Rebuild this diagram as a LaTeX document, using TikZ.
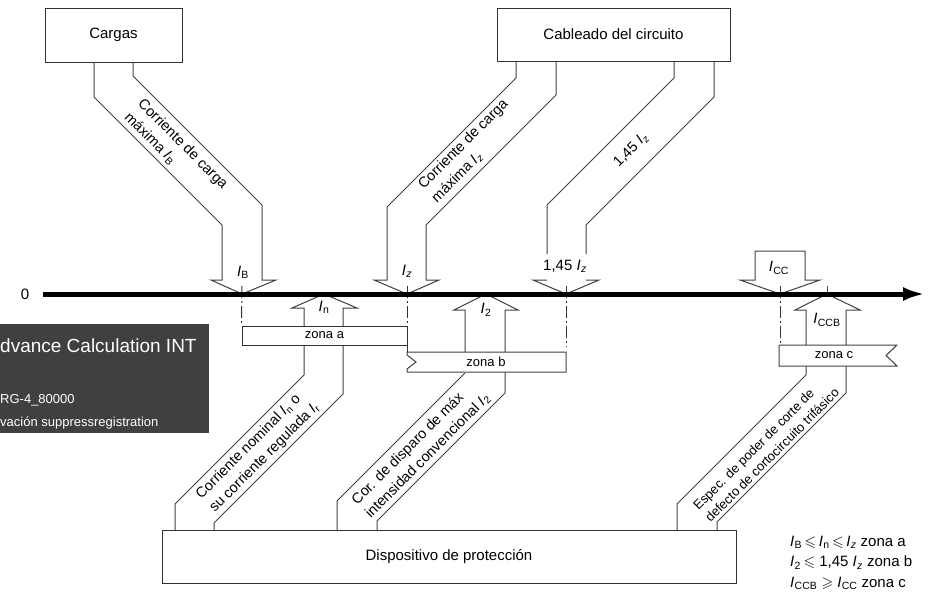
\documentclass[tikz,border=0pt]{standalone}
\usepackage{amssymb}
\usepackage{fontspec}
\setmainfont{Liberation Sans}
\usetikzlibrary{shapes,arrows.meta,positioning}
\tikzstyle{box} = [draw=black!80, line width=1pt, inner sep=0pt]
\tikzstyle{band} = [draw=black!75, line width=1pt]
\tikzstyle{guide} = [draw=black!80, line width=1pt, dash pattern=on 12pt off 3pt on 2pt off 3pt]
\tikzstyle{lbl} = [font=\fontsize{15}{17}\selectfont, inner sep=0pt]
\tikzstyle{zlbl} = [font=\fontsize{13}{15}\selectfont, inner sep=0pt]
\tikzstyle{bandtxt} = [font=\fontsize{14.5}{19}\selectfont, align=left, inner sep=0pt]
\newcommand{\cI}[1]{\textit{I}\kern0.3pt\textsubscript{#1}}

\begin{document}
\begin{tikzpicture}[x=1pt, y=-1pt]
	\useasboundingbox (0,0) rectangle (932,592);

	% boxes
	\node [box, lbl, minimum width=137pt, minimum height=54pt] (cargas) at (113.5,35) {Cargas};
	\node [box, lbl, minimum width=233pt, minimum height=53pt] (cableado) at (613.5,34.5) {Cableado del circuito};
	\node [box, lbl, minimum width=574pt, minimum height=53pt] (disp) at (449,556.5) {Dispositivo de protección};

	% points on the axis
	\coordinate (O) at (43,294);
	\coordinate (end) at (925,294);
	\coordinate (IB) at (242,294);
	\coordinate (IZ) at (407,294);
	\coordinate (IZ2) at (566,294);
	\coordinate (ICC) at (780,294);
	\coordinate (IN) at (324,294);
	\coordinate (I2) at (486,294);
	\coordinate (ICCB) at (827,294);

	% zones
	\node [box, zlbl, minimum width=165pt, minimum height=19pt] (zonaa) at (324.5,335.5) {zona a};
	\path [band] (407,352) -- (566,352) -- (566,372) -- (407,372) -- (407,369) -- (416,362) -- (407,355) -- cycle;
	\node [zlbl] (zonab) at (486,362) {zona b};
	\path [band] (779,345) -- (897,345) -- (886,355.5) -- (897,366) -- (779,366) -- cycle;
	\node [zlbl] (zonac) at (834,355.5) {zona c};

	% dash-dot guides
	\path [guide] (242,286) -- (zonaa.north west);
	\path [guide] (407,286) -- (407,352);
	\path [guide] (566,286) -- (566,347);
	\path [guide] (780,286) -- (780,345);

	% arrows from above
	\path [band] (94,62) -- (94,97) -- (222,225) -- (222,280) -- (211,280) -- (IB) -- (276,280) -- (262,280) -- (262,205) -- (133,76) -- (133,62);
	\path [band] (516,61) -- (516,78) -- (387,207) -- (387,280) -- (374,280) -- (IZ) -- (439,280) -- (426,280) -- (426,225) -- (556,95) -- (556,61);
	\path [band] (674,61) -- (674,78) -- (547,205) -- (547,254);
	\path [band] (714,61) -- (714,97) -- (586,225) -- (586,254);
	\path [band] (547,280) -- (533,280) -- (IZ2) -- (599,280) -- (586,280);
	\path [band] (740,280) -- (755,280) -- (755,251) -- (805,251) -- (805,280) -- (820,280) -- (ICC) -- cycle;

	% arrows from below
	\path [band] (304,326) -- (304,308) -- (292,308) -- (IN) -- (357,308) -- (343,308) -- (343,326);
	\path [band] (304,345) -- (304,375) -- (175,504) -- (175,530);
	\path [band] (343,345) -- (343,394) -- (214,523) -- (214,530);
	\path [band] (465,352) -- (465,310) -- (454,310) -- (I2) -- (518,310) -- (505,310) -- (505,352);
	\path [band] (465,373) -- (337,501) -- (337,530);
	\path [band] (505,372) -- (505,393) -- (377,521) -- (377,530);
	\path [band] (806,345) -- (806,310) -- (795,310) -- (ICCB) -- (860,310) -- (846,310) -- (846,345);
	\path [band] (ICCB) -- ++(0,-8);
	\path [band] (806,366) -- (806,375) -- (677,504) -- (677,530);
	\path [band] (846,366) -- (846,393) -- (717,522) -- (717,530);

	% axis
	\draw [line width=5pt, -{Latex[length=22pt,width=14pt]}] (O) -- (end);
	\node [lbl] (zero) at (25,294) {0};

	% labels
	\node [lbl] (lIB) at (243,272) {\cI{B}};
	\node [lbl] (lIZ) at (407,271) {\cI{\textit{z}}};
	\node [lbl] (lIZ2) at (565,266) {1,45 \cI{\textit{z}}};
	\node [lbl] (lICC) at (779,268) {\cI{CC}};
	\node [lbl] (lIN) at (324,307) {\cI{n}};
	\node [lbl] (lI2) at (486,310) {\cI{2}};
	\node [lbl] (lICCB) at (827,320) {\cI{CCB}};

	\node [bandtxt, rotate=-45] (tB) at (176,151) {Corriente de carga\\máxima \cI{B}};
	\node [bandtxt, rotate=45] (tZ) at (470,151) {Corriente de carga\\máxima \cI{\textit{z}}};
	\node [bandtxt, rotate=45] (tZ2) at (631,150) {1,45 \cI{\textit{z}}};
	\node [bandtxt, rotate=45] (tN) at (258,451) {Corriente nominal \cI{n} o\\su corriente regulada \cI{r}};
	\node [bandtxt, rotate=45] (t2) at (421,449) {Cor. de disparo de máx\\intensidad convencional \cI{2}};
	\node [bandtxt, rotate=45, font=\fontsize{13}{17}\selectfont] (tCCB) at (766,449) {Espec. de poder de corte de\\defecto de cortocircuito trifásico};

	% legend
	\node [lbl, anchor=west, align=left, font=\fontsize{15}{20.5}\selectfont] (legend) at (790,563) {\cI{B}\,$\leqslant$\,\cI{n}\,$\leqslant$\,\cI{\textit{z}} zona a\\\cI{2}\,$\leqslant$ 1,45 \cI{\textit{z}} zona b\\\cI{CCB} $\geqslant$ \cI{CC} zona c};

	% overlay panel
	\fill [black!75] (0,324) rectangle (209,433);
	\node [anchor=base west, inner sep=0pt, text=white, font=\fontsize{19}{21}\selectfont] (ov1) at (0,352) {dvance Calculation INT};
	\node [anchor=base west, inner sep=0pt, text=white, font=\fontsize{13}{15}\selectfont] (ov2) at (0,403) {RG-4\_80000};
	\node [anchor=base west, inner sep=0pt, text=white, font=\fontsize{13}{15}\selectfont] (ov3) at (0,426) {vación suppressregistration};
\end{tikzpicture}
\end{document}
